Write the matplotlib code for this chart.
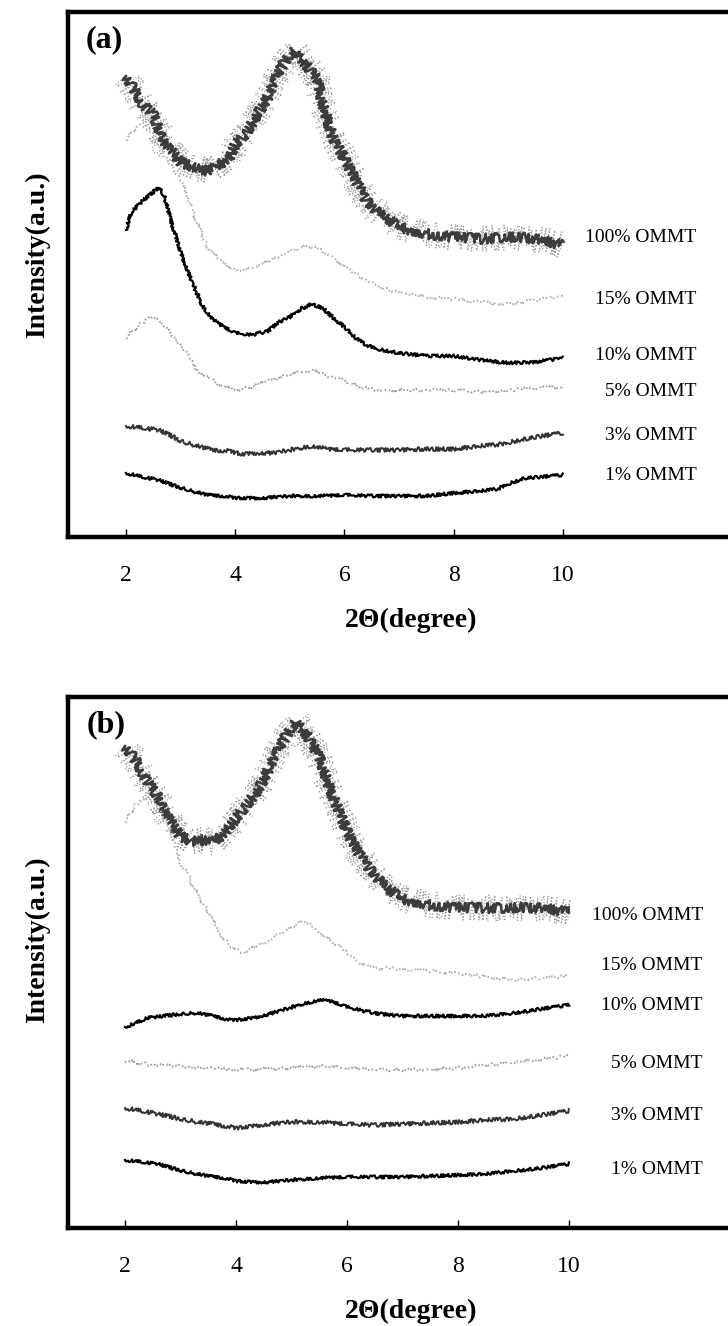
import matplotlib
matplotlib.use('Agg')
import matplotlib.pyplot as plt

# Painel (a)
a_x_100 = [2.0, 2.3, 2.5, 2.7, 3.0, 3.3, 3.5, 3.7, 3.9, 4.0, 4.2, 4.4, 4.6, 4.8, 5.0, 5.1,
           5.3, 5.5, 5.6, 5.8, 6.0, 6.2, 6.4, 6.6, 6.8, 7.0, 7.5, 8.0, 8.5, 9.0, 9.5, 10.0]
a_y_100 = [461, 433, 422, 393, 375, 368, 366, 372, 379, 393, 404, 422, 440, 465, 483, 487,
           472, 458, 433, 397, 379, 357, 336, 325, 318, 310, 303, 300, 298, 300, 298, 292]
a_x_15 = [2.0, 2.2, 2.4, 2.7, 3.0, 3.1, 3.3, 3.5, 3.7, 4.0, 4.2, 4.5, 4.8, 5.0, 5.3, 5.5,
          5.8, 6.0, 6.3, 6.6, 7.0, 7.5, 8.0, 8.5, 9.0, 9.5, 10.0]
a_y_15 = [397, 411, 411, 382, 357, 343, 314, 289, 278, 267, 267, 273, 280, 285, 291, 289,
          280, 271, 260, 251, 244, 240, 238, 235, 233, 237, 241]
a_x_10 = [2.0, 2.1, 2.3, 2.5, 2.6, 2.7, 2.8, 3.0, 3.2, 3.4, 3.6, 3.8, 4.0, 4.3, 4.6, 4.8,
          5.0, 5.2, 5.4, 5.6, 5.8, 6.0, 6.2, 6.4, 6.6, 6.8, 7.0, 7.5, 8.0, 8.5, 9.0, 9.5, 10.0]
a_y_10 = [307, 325, 336, 345, 350, 341, 321, 285, 256, 231, 217, 210, 204, 202, 206, 215,
          220, 228, 233, 229, 219, 210, 199, 192, 188, 186, 184, 181, 181, 177, 174, 175, 179]
a_x_5 = [2.0, 2.2, 2.4, 2.5, 2.7, 2.9, 3.1, 3.3, 3.5, 3.8, 4.0, 4.3, 4.6, 4.9, 5.2, 5.4,
         5.7, 6.0, 6.3, 6.6, 7.0, 7.5, 8.0, 8.5, 9.0, 9.5, 10.0]
a_y_5 = [199, 210, 219, 220, 211, 199, 185, 167, 159, 150, 147, 150, 156, 161, 165, 167,
         161, 156, 150, 147, 147, 147, 147, 145, 147, 149, 150]
a_x_3 = [2.0, 2.3, 2.6, 2.8, 3.0, 3.3, 3.6, 3.9, 4.1, 4.4, 4.7, 5.0, 5.4, 5.7, 6.0, 6.5,
         7.0, 7.5, 8.0, 8.5, 8.9, 9.2, 9.5, 10.0]
a_y_3 = [111, 109, 107, 102, 96, 91, 87, 86, 83, 84, 84, 87, 91, 88, 87, 87,
         87, 88, 88, 91, 93, 97, 100, 104]
a_x_1 = [2.0, 2.3, 2.6, 2.9, 3.2, 3.5, 3.8, 4.0, 4.5, 5.0, 5.5, 6.0, 6.5, 7.0, 7.5, 8.0,
         8.5, 8.8, 9.0, 9.3, 9.6, 10.0]
a_y_1 = [64, 60, 57, 51, 46, 42, 41, 39, 39, 41, 41, 42, 41, 41, 41, 44,
         46, 48, 53, 59, 60, 62]

# Painel (b)
b_x_100 = [2.0, 2.2, 2.4, 2.6, 2.7, 2.9, 3.0, 3.2, 3.4, 3.6, 3.8, 4.0, 4.2, 4.4, 4.6, 4.8,
           5.0, 5.1, 5.3, 5.5, 5.7, 5.9, 6.1, 6.3, 6.5, 6.7, 7.0, 7.5, 8.0, 8.5, 9.0, 9.5, 10.0]
b_y_100 = [482, 467, 446, 431, 417, 399, 392, 386, 388, 386, 395, 410, 424, 438, 460, 482,
           501, 507, 491, 471, 438, 410, 385, 367, 352, 341, 329, 323, 320, 320, 320, 320, 316]
b_x_15 = [2.0, 2.2, 2.4, 2.6, 2.8, 3.0, 3.1, 3.3, 3.5, 3.7, 3.9, 4.1, 4.3, 4.6, 4.9, 5.2,
          5.4, 5.6, 5.9, 6.2, 6.5, 7.0, 7.5, 8.0, 8.5, 9.0, 9.5, 10.0]
b_y_15 = [406, 424, 430, 420, 400, 363, 356, 334, 316, 295, 282, 275, 280, 287, 298, 307,
          302, 291, 280, 266, 260, 259, 257, 255, 251, 248, 250, 252]
b_x_10 = [2.0, 2.2, 2.4, 2.7, 3.0, 3.3, 3.6, 3.9, 4.0, 4.3, 4.6, 4.9, 5.2, 5.5, 5.7, 6.0,
          6.3, 6.6, 7.0, 7.5, 8.0, 8.5, 9.0, 9.5, 10.0]
b_y_10 = [201, 205, 210, 212, 214, 215, 212, 208, 208, 210, 214, 219, 224, 228, 227, 221,
          217, 214, 212, 212, 212, 212, 215, 219, 223]
b_x_5 = [2.0, 2.5, 3.0, 3.5, 4.0, 4.5, 5.0, 5.5, 6.0, 6.5, 7.0, 7.5, 8.0, 8.5, 9.0, 9.5, 10.0]
b_y_5 = [167, 163, 162, 160, 158, 159, 160, 162, 160, 158, 158, 159, 160, 163, 165, 169, 172]
b_x_3 = [2.0, 2.3, 2.6, 3.0, 3.3, 3.6, 4.0, 4.3, 4.6, 5.0, 5.5, 6.0, 6.5, 7.0, 7.5, 8.0,
         8.5, 9.0, 9.5, 10.0]
b_y_3 = [120, 117, 114, 109, 106, 104, 100, 102, 104, 106, 106, 104, 103, 104, 105, 106,
         108, 109, 113, 117]
b_x_1 = [2.0, 2.3, 2.6, 2.9, 3.2, 3.5, 3.8, 4.0, 4.3, 4.6, 5.0, 5.5, 6.0, 6.5, 7.0, 7.5,
         8.0, 8.5, 9.0, 9.5, 10.0]
b_y_1 = [68, 66, 64, 59, 55, 52, 50, 47, 46, 46, 48, 50, 51, 51, 51, 52,
         53, 54, 57, 60, 64]

rotulos = ['100% OMMT', '15% OMMT', '10% OMMT', '5% OMMT', '3% OMMT', '1% OMMT']
xticks = [2, 4, 6, 8, 10]

# posicao vertical dos rotulos (mesma escala da intensidade)
rot_y_a = [300, 237, 182, 145, 102, 62]
rot_y_b = [313, 262, 223, 165, 112, 59]

serif = 'Liberation Serif'
W, H = 728, 1326


def estilo_curvas():
    # (cor, espessura, tracejado, sketch) para cada amostra
    return [
        ('#3c3c3c', 1.8, '-', (5, 1.2, 8)),
        ('#b0b0b0', 1.3, (0, (1, 2)), (1.5, 2, 3)),
        ('#000000', 1.6, '-', (1.5, 1.5, 4)),
        ('#a0a0a0', 1.3, (0, (1, 2)), (1.5, 2, 3)),
        ('#333333', 1.4, '-', (2, 1.5, 4)),
        ('#000000', 1.6, '-', (1.5, 1.5, 4)),
    ]


def painel(ax, curvas, rot_y, letra, xmin, xmax, ymax, x_rot):
    for i, ((x, y), (cor, lw, ls, sk)) in enumerate(zip(curvas, estilo_curvas())):
        if i == 0:
            # nuvem de ruido cinza do 100% OMMT
            ln = ax.plot(x, y, color='#9a9a9a', lw=0.9, ls=(0, (1, 1.5)))[0]
            ln.set_sketch_params(13, 1.0, 12)
        ln = ax.plot(x, y, color=cor, lw=lw, ls=ls)[0]
        ln.set_sketch_params(*sk)
    for txt, yy in zip(rotulos, rot_y):
        ax.text(x_rot, yy, txt, ha='right', va='center', fontsize=14, family=serif)
    ax.text(xmin + 0.33, ymax - 28, letra, ha='left', va='center', fontsize=23,
            family=serif, weight='bold')
    ax.set_xlim(xmin, xmax)
    ax.set_ylim(0, ymax)
    ax.set_xticks(xticks)
    ax.set_xticklabels([str(t) for t in xticks], family=serif, fontsize=17)
    ax.set_yticks([])
    ax.tick_params(axis='x', direction='in', length=6, width=1, pad=20)
    for s in ['left', 'bottom', 'top']:
        ax.spines[s].set_linewidth(3.2)
    ax.spines['right'].set_visible(False)


fig = plt.figure(figsize=(W / 100, H / 100), dpi=100)

# eixos em pixels: (esq, topo, dir, base)
ax_a = fig.add_axes([68 / W, 1 - 537 / H, (760 - 68) / W, (537 - 12) / H])
ax_b = fig.add_axes([68 / W, 1 - 1228 / H, (760 - 68) / W, (1228 - 697) / H])

painel(ax_a, [(a_x_100, a_y_100), (a_x_15, a_y_15), (a_x_10, a_y_10),
              (a_x_5, a_y_5), (a_x_3, a_y_3), (a_x_1, a_y_1)],
       rot_y_a, '(a)', 0.938, 13.61, 525, 12.45)
painel(ax_b, [(b_x_100, b_y_100), (b_x_15, b_y_15), (b_x_10, b_y_10),
              (b_x_5, b_y_5), (b_x_3, b_y_3), (b_x_1, b_y_1)],
       rot_y_b, '(b)', 0.973, 13.44, 531, 12.41)

# titulos dos eixos
for yc in [255, 940]:
    fig.text(38 / W, 1 - yc / H, 'Intensity(a.u.)', rotation=90, ha='center', va='center',
             fontsize=20, family=serif, weight='bold')
for yc in [620, 1311]:
    fig.text(411 / W, 1 - yc / H, '2\u0398(degree)', ha='center', va='center',
             fontsize=20, family=serif, weight='bold')

fig.savefig('out.png', dpi=100)
